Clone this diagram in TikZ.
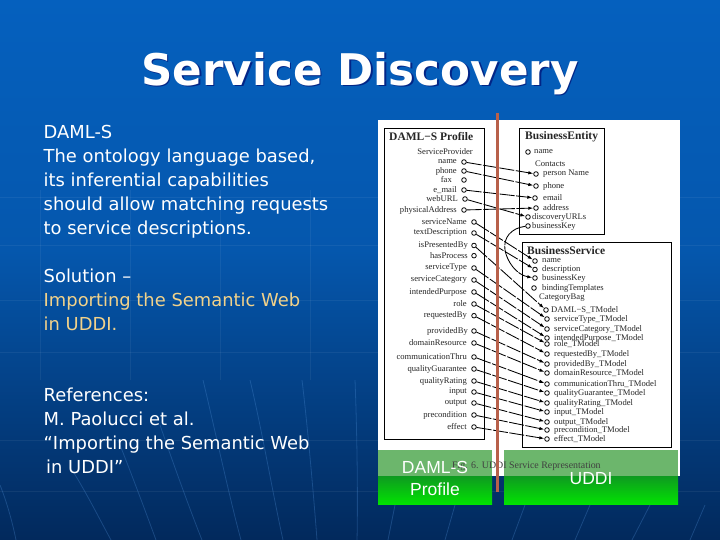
\documentclass[tikz,border=0pt]{standalone}
\usepackage{fontspec}
\setmainfont{DejaVu Sans}
\newfontfamily\serifsmall{Liberation Serif}
\newfontfamily\arialfont{Liberation Sans}
\usetikzlibrary{arrows.meta}
\definecolor{bgtop}{HTML}{0560BE}
\definecolor{bgmid}{HTML}{0557AD}
\definecolor{bgbot}{HTML}{02295C}
\definecolor{gold}{HTML}{F2D28A}
\definecolor{redline}{HTML}{B8604A}
\definecolor{greenpale}{HTML}{6CB66C}
\definecolor{greentop}{HTML}{0E9A20}
\definecolor{greenbot}{HTML}{02E202}
\definecolor{streakc}{HTML}{4F8FD6}
\tikzset{
  title/.style={font=\fontsize{43.6}{44}\selectfont\bfseries,anchor=base},
  body/.style={font=\fontsize{17.9}{18}\selectfont,text=white,anchor=base west,inner sep=0pt},
  small/.style={font=\serifsmall\fontsize{8.6}{8.6}\selectfont,text=black!85,inner sep=0pt},
  smallbold/.style={font=\serifsmall\bfseries\fontsize{11.5}{11.5}\selectfont,text=black!85,inner sep=0pt,anchor=west},
  lab/.style={small,anchor=east},
  rlab/.style={small,anchor=west},
  port/.style={circle,draw=black,line width=.8pt,fill=white,inner sep=0pt,minimum size=4.6pt},
  panelbox/.style={draw=black,line width=.9pt,fill=white},
  conn/.style={draw=black,line width=.85pt,dash pattern=on 15pt off 1.6pt,-{Latex[length=5pt,width=3.4pt]}},
  greenlabel/.style={font=\arialfont\fontsize{17.5}{17.5}\selectfont,text=white,anchor=base},
  gridline/.style={draw=white,opacity=.06,line width=.6pt},
  streak/.style={draw=streakc,opacity=.3,line width=.8pt}
}
\begin{document}
\begin{tikzpicture}[x=1pt,y=-1pt]
\useasboundingbox (0,0) rectangle (720,540);
% background
\shade[top color=bgtop,bottom color=bgmid] (0,0) rectangle (720,250);
\shade[top color=bgmid,bottom color=bgbot] (0,250) rectangle (720,540);
\foreach \yy in {197,245,300,352,440,491} \draw[gridline] (0,\yy) -- (720,\yy);
\foreach \xx in {40,130,220,310,400,490,580,670} \draw[gridline] (\xx,190) -- (\xx,380);
% curved streaks of the backdrop
\draw[streak] (0,485) .. controls (6,500) and (12,520) .. (16,540);
\draw[streak] (72,470) .. controls (85,490) and (100,520) .. (111,540);
\draw[streak] (118,440) .. controls (130,470) and (145,510) .. (156,540);
\draw[streak] (160,425) .. controls (172,460) and (190,510) .. (202,540);
\draw[streak] (203,380) .. controls (215,430) and (230,500) .. (241,540);
\draw[streak] (250,380) .. controls (262,430) and (274,500) .. (283,540);
\draw[streak] (302,380) .. controls (308,430) and (314,500) .. (317,540);
\draw[streak] (355,380) .. controls (357,430) and (358,500) .. (357,540);
\foreach \xa/\xb in {395/388,455/445,525/512,590/575,650/632,705/690}
  \draw[streak] (\xa,505) -- (\xb,540);
% title
\node[title,text=black!60!blue,opacity=.6] (titleshadow) at (361.5,87) {Service Discovery};
\node[title,text=white] (title) at (360,85.5) {Service Discovery};
% left text
\node[body] (t1) at (43.5,139) {DAML-S};
\node[body] (t2) at (43.5,163) {The ontology language based,};
\node[body] (t3) at (43.5,187) {its inferential capabilities};
\node[body] (t4) at (43.5,211) {should allow matching requests};
\node[body] (t5) at (43.5,235) {to service descriptions.};
\node[body] (t6) at (43.5,282) {Solution –};
\node[body,text=gold] (t7) at (43.5,306) {Importing the Semantic Web};
\node[body,text=gold] (t8) at (43.5,330) {in UDDI.};
\node[body] (t9) at (43.5,401) {References:};
\node[body] (t10) at (43.5,425) {M. Paolucci et al.};
\node[body] (t11) at (43.5,449) {“Importing the Semantic Web};
\node[body] (t12) at (46,473) {in UDDI”};
% panel
\fill[white] (378,120) rectangle (680,476);
% boxes
\draw[panelbox] (384,128) rectangle (484,439);
\draw[panelbox] (519,128) rectangle (604,234);
\draw[panelbox] (522,242) rectangle (671,447);
\node[smallbold] (h1) at (389,136.5) {DAML−S Profile};
\node[smallbold] (h2) at (525,136.5) {BusinessEntity};
\node[smallbold] (h3) at (527,250.5) {BusinessService};
% DAML-S profile labels and ports
\node[small,anchor=east] (sp) at (473,151.7) {ServiceProvider};
\foreach \n/\t/\tx/\cx/\yy in {
 a/name/457/464/162, b/phone/457/464/171, c/fax/452/464/180, d/e\_mail/457/464/190,
 e/webURL/458/465/199, f/physicalAddress/457/464/210, g/serviceName/467/474/222,
 h/textDescription/467/474/233, i/isPresentedBy/468/474/245.5, j/hasProcess/468/474/255.7,
 k/serviceType/467/474/268, l/serviceCategory/467/474/280, m/intendedPurpose/467/474/292,
 n/role/467/474/304, o/requestedBy/467/474/315.7, p/providedBy/468/474/331,
 q/domainResource/467/474/343, r/communicationThru/467/474/357, s/qualityGuarantee/467/474/369,
 t/qualityRating/467/474/381, u/input/467/474/392, v/output/467/474/403,
 w/precondition/467/474/415, x/effect/467/474/427}{
  \node[lab] (lt\n) at (\tx,\yy) {\t};
  \node[port] (lp\n) at (\cx,\yy) {};
}
% BusinessEntity
\node[rlab] (ename) at (534,152) {name};
\node[port] (pename) at (528,152) {};
\node[rlab] (contacts) at (535,164) {Contacts};
\foreach \n/\t/\cx/\tx/\yy in {a/person Name/536/543/174, b/phone/536/543/186, c/email/535/543/198,
  d/address/536/543/208, e/discoveryURLs/528/532/217, f/businessKey/528/532/226}{
  \node[rlab] (et\n) at (\tx,\yy) {\t};
  \node[port] (ep\n) at (\cx,\yy) {};
}
% BusinessService
\node[rlab] (cat) at (539,298) {CategoryBag};
\foreach \n/\t/\cx/\tx/\yy in {a/name/535/542/261, b/description/535/542/269.5, c/businessKey/535/542/278,
  d/bindingTemplates/534/542/288, e/DAML−S\_TModel/546/551/310, f/serviceType\_TModel/547/554/319,
  g/serviceCategory\_TModel/547/554/329, h/intendedPurpose\_TModel/547/554/338, i/role\_TModel/547/554/344,
  j/requestedBy\_TModel/547/554/354, k/providedBy\_TModel/547/554/364, l/domainResource\_TModel/547/554/373,
  m/communicationThru\_TModel/547/554/384, n/qualityGuarantee\_TModel/547/554/393,
  o/qualityRating\_TModel/547/554/403, p/input\_TModel/547/554/412, q/output\_TModel/547/554/422,
  r/precondition\_TModel/547/554/430, s/effect\_TModel/547/554/439}{
  \node[rlab] (st\n) at (\tx,\yy) {\t};
  \node[port] (sp\n) at (\cx,\yy) {};
}
% connectors
\foreach \f/\g in {lpa/epa, lpb/epb, lpd/epc, lpf/epd, lpe/epe, lpg/spa, lph/spb,
  lpi/spe, lpk/spf, lpl/spg, lpm/sph, lpn/spi, lpo/spj, lpp/spk, lpq/spl, lpr/spm,
  lps/spn, lpt/spo, lpu/spp, lpv/spq, lpw/spr, lpx/sps}{
  \draw[conn] (\f) -- (\g);
}
\draw[conn,dash pattern=on 30pt off 1pt] (epf) .. controls (511,228) and (503,238) .. (505,250) .. controls (507,262) and (517,275) .. (spc);
% green boxes
\fill[greenpale] (378,450) rectangle (492,476);
\fill[greenpale] (504,450) rectangle (678,476);
\shade[top color=greentop,bottom color=greenbot] (378,476) rectangle (492,504);
\shade[top color=greentop,bottom color=greenbot] (504,476) rectangle (678,504);
% caption seen through the green
\node[anchor=base west,inner sep=0pt,text=black!75,font=\serifsmall\fontsize{9.9}{9.9}\selectfont] (cap) at (452,468) {Fig. 6. UDDI Service Representation};
% red line
\draw[redline,line width=2.4pt] (497.3,113) coordinate (ra) -- (497.3,492) coordinate (rb);
% green labels
\node[greenlabel] (g1) at (435,473) {DAML-S};
\node[greenlabel] (g2) at (435,495) {Profile};
\node[greenlabel] (g3) at (591,484) {UDDI};
\end{tikzpicture}
\end{document}
